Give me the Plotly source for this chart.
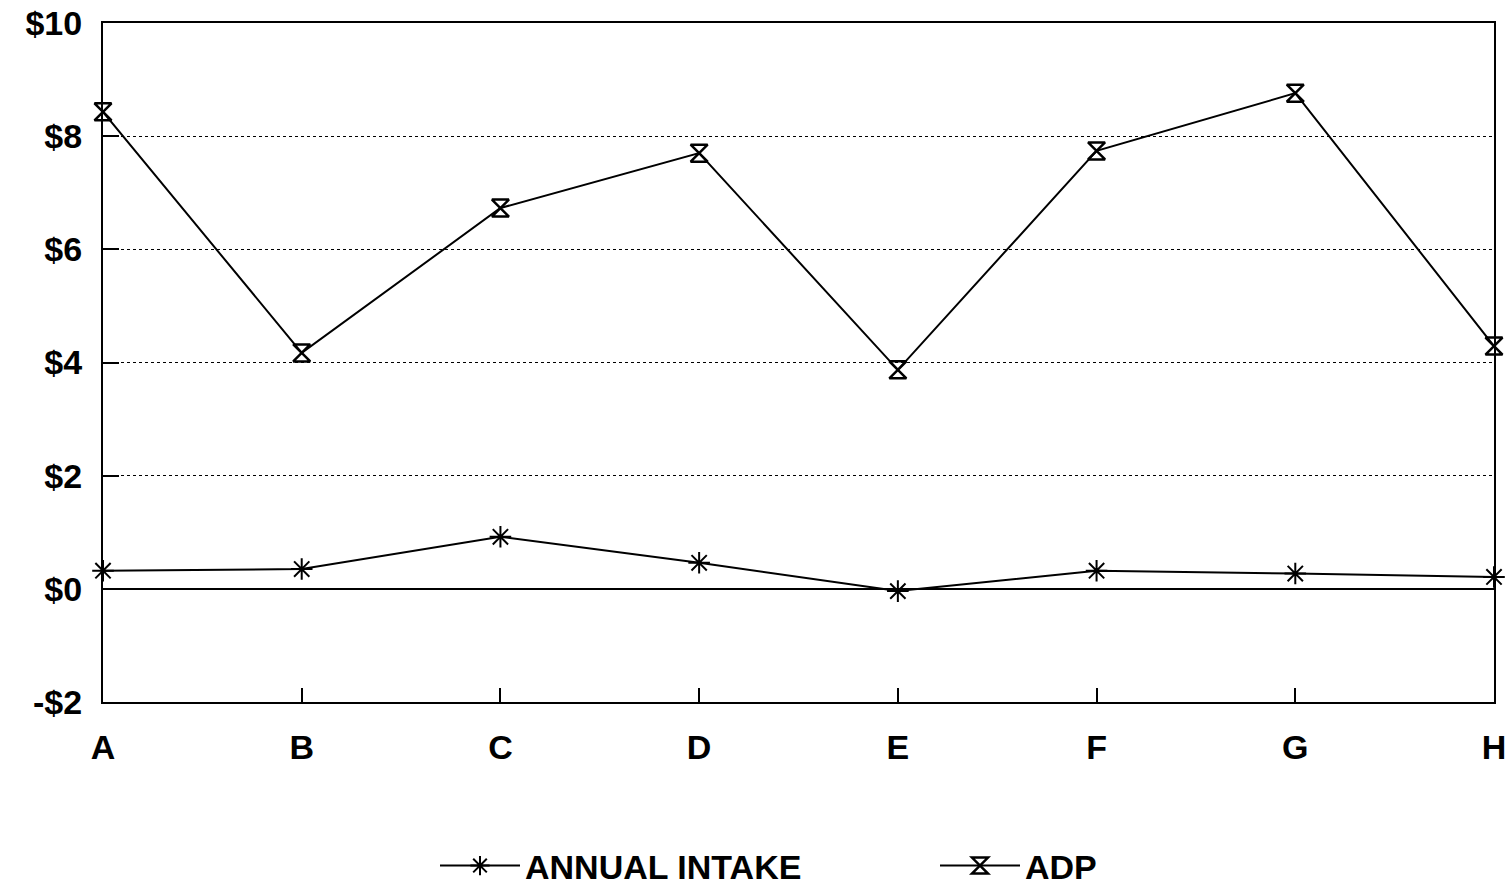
import plotly.graph_objects as go

categories = ["A", "B", "C", "D", "E", "F", "G", "H"]
annual_intake = [0.32, 0.35, 0.92, 0.46, -0.04, 0.32, 0.27, 0.21]
adp = [8.43, 4.17, 6.73, 7.70, 3.87, 7.74, 8.76, 4.29]
y_tickvals = [-2, 0, 2, 4, 6, 8, 10]
y_ticktext = ["-$2", "$0", "$2", "$4", "$6", "$8", "$10"]

FONT = "Liberation Sans, Arial, sans-serif"

fig = go.Figure()
fig.add_trace(go.Scatter(
    x=categories, y=annual_intake, name="ANNUAL INTAKE",
    mode="lines+markers",
    line=dict(color="black", width=2),
    marker=dict(symbol="asterisk-open", size=18, color="black",
                line=dict(color="black", width=2)),
    cliponaxis=False,
))
fig.add_trace(go.Scatter(
    x=categories, y=adp, name="ADP",
    mode="lines+markers",
    line=dict(color="black", width=2),
    marker=dict(symbol="hourglass-open", size=17, color="black",
                line=dict(color="black", width=2.5)),
    cliponaxis=False,
))

fig.update_layout(
    width=1512, height=885,
    margin=dict(l=103, r=18, t=23, b=183, autoexpand=False),
    paper_bgcolor="white", plot_bgcolor="white",
    font=dict(family=FONT, color="black"),
    showlegend=True,
    hovermode=False,
    legend=dict(
        orientation="h", xref="container", yref="container",
        x=435 / 1512, xanchor="left", y=(885 - 866) / 885, yanchor="middle",
        font=dict(size=34, family=FONT, weight="bold"),
        itemwidth=80, entrywidth=405, bgcolor="rgba(0,0,0,0)",
    ),
)

fig.update_xaxes(
    type="category", range=[0, 7], automargin=False,
    showline=True, linecolor="black", linewidth=2, mirror=True,
    showgrid=False, zeroline=False,
    ticks="inside", ticklen=14, tickwidth=2, tickcolor="black",
    tickfont=dict(size=34, family=FONT, weight="bold"),
    ticklabelstandoff=14,
)
fig.update_yaxes(
    range=[-2, 10], tickvals=y_tickvals, ticktext=y_ticktext, automargin=False,
    showline=True, linecolor="black", linewidth=2, mirror=True,
    showgrid=True, gridcolor="black", gridwidth=1, griddash="dot",
    zeroline=True, zerolinecolor="black", zerolinewidth=2,
    ticks="inside", ticklen=16, tickwidth=2, tickcolor="black",
    tickfont=dict(size=34, family=FONT, weight="bold"),
    ticklabelstandoff=12,
)

fig.write_html(
    "out.html",
    config={"displayModeBar": False},
    post_script="document.body.style.margin='0';document.body.style.overflow='hidden';",
)
